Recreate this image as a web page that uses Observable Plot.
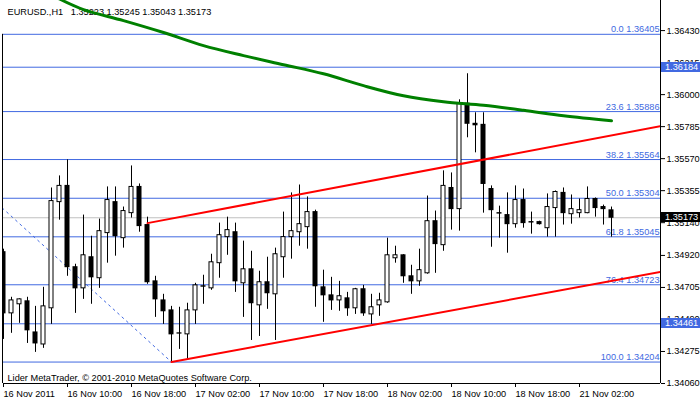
<!DOCTYPE html>
<html><head><meta charset="utf-8">
<script src="https://cdn.jsdelivr.net/npm/d3@7"></script>
<script src="https://cdn.jsdelivr.net/npm/@observablehq/plot@0.6"></script>
<style>
html,body{margin:0;padding:0;background:#fff;}
#chart{width:700px;height:402px;overflow:hidden;}
svg{display:block;}
</style></head><body><div id="chart"></div>
<script>
// ---- data (EURUSD H1, 16-21 Nov 2011), bar index 0 = 16 Nov 02:00 ----
const open = [1.34942,1.34531,1.34592,1.34612,1.34403,1.34322,1.34565,1.35278,1.35387,1.34841,
1.34699,1.34908,1.34767,1.35070,1.35278,1.35036,1.35204,1.35380,1.35124,1.34746,
1.34618,1.34551,1.34397,1.34390,1.34551,1.34710,1.34699,1.34868,1.35043,1.35076,
1.34733,1.34827,1.34585,1.34740,1.34659,1.34908,1.35043,1.35076,1.35110,1.35211,
1.34706,1.34652,1.34618,1.34632,1.34565,1.34693,1.34524,1.34585,1.34605,1.34901,
1.34921,1.34780,1.34746,1.34800,1.35150,1.34989,1.35373,1.35231,1.35939,1.35804,
1.35797,1.35366,1.35204,1.35191,1.35130,1.35292,1.35144,1.35144,1.35103,1.35238,
1.35340,1.35197,1.35204,1.35204,1.35299,1.35245,1.35223];
const high = [1.34962,1.34639,1.34628,1.34639,1.34578,1.34706,1.35373,1.35454,1.35562,1.34861,
1.35191,1.35049,1.35164,1.35380,1.35380,1.35245,1.35521,1.35400,1.35177,1.34780,
1.34659,1.34578,1.34572,1.34599,1.34733,1.34787,1.34928,1.35137,1.35177,1.35137,
1.35016,1.34948,1.34814,1.34908,1.34969,1.35211,1.35340,1.35393,1.35313,1.35224,
1.34821,1.34773,1.34746,1.34672,1.34699,1.34719,1.34659,1.34666,1.35036,1.34982,
1.34925,1.34854,1.34962,1.35319,1.35218,1.35488,1.35474,1.35965,1.36140,1.35878,
1.35878,1.35387,1.35251,1.35340,1.35387,1.35366,1.35211,1.35150,1.35333,1.35353,
1.35373,1.35326,1.35299,1.35380,1.35306,1.35258,1.35245];
const low = [1.34356,1.34397,1.34464,1.34329,1.34269,1.34296,1.34457,1.35157,1.34780,1.34531,
1.34625,1.34592,1.34699,1.34868,1.34915,1.34969,1.35171,1.35076,1.34726,1.34504,
1.34457,1.34204,1.34289,1.34221,1.34457,1.34592,1.34686,1.34767,1.34921,1.34672,
1.34504,1.34349,1.34376,1.34558,1.34349,1.34767,1.34895,1.34982,1.34962,1.34572,
1.34471,1.34551,1.34545,1.34511,1.34524,1.34511,1.34457,1.34511,1.34599,1.34868,
1.34733,1.34659,1.34713,1.34794,1.34800,1.34948,1.35090,1.35083,1.35710,1.35609,
1.35204,1.34975,1.35036,1.34935,1.35103,1.35103,1.35063,1.35124,1.35043,1.35043,
1.35124,1.35130,1.35171,1.35200,1.35177,1.35124,1.35043];
const close = [1.34531,1.34618,1.34625,1.34417,1.34329,1.34578,1.35285,1.35387,1.34841,1.34699,
1.34921,1.34773,1.35083,1.35292,1.35049,1.35218,1.35380,1.35117,1.34740,1.34625,
1.34545,1.34390,1.34395,1.34551,1.34719,1.34713,1.34874,1.35056,1.35090,1.34746,
1.34827,1.34599,1.34740,1.34666,1.34928,1.35043,1.35083,1.35130,1.35211,1.34713,
1.34652,1.34618,1.34646,1.34565,1.34693,1.34531,1.34572,1.34618,1.34921,1.34921,
1.34780,1.34746,1.34821,1.35150,1.34996,1.35387,1.35231,1.35939,1.35804,1.35794,
1.35400,1.35224,1.35201,1.35130,1.35292,1.35137,1.35141,1.35130,1.35245,1.35346,
1.35204,1.35231,1.35224,1.35299,1.35238,1.35231,1.35173];

// moving average (green)
const maBar = [7,10,15,20,25,30,35,40,45,50,55,60,65,70,76];
const maVal = [1.36642,1.36571,1.36497,1.36417,1.36329,1.36262,1.36201,1.36140,1.36060,1.35992,1.35952,1.35928,1.35895,1.35858,1.35824];

// trend lines (red), channel
const upperBar = [18, 83], upperVal = [1.35137, 1.35797];
const lowerBar = [21, 83], lowerVal = [1.34204, 1.34818];

// fibonacci
const fibLevel = ["0.0","23.6","38.2","50.0","61.8","76.4","100.0"];
const fibPrice = [1.36405,1.35886,1.35564,1.35304,1.35045,1.34723,1.34204];
const fibTrendBar = [-24, 21], fibTrendVal = [1.36405, 1.34204];

// horizontal lines and bid
const hLines = [1.36184, 1.34461];
const bid = 1.35173;

// axes
const yTicks = [1.36430,1.36215,1.36000,1.35785,1.35570,1.35355,1.35140,1.34920,1.34705,1.34490,1.34275,1.34060];
const xTickBar = [0,8,16,24,32,40,48,56,64,72];
const xLabels = ["16 Nov 2011","16 Nov 10:00","16 Nov 18:00","17 Nov 02:00","17 Nov 10:00","17 Nov 18:00","18 Nov 02:00","18 Nov 10:00","18 Nov 18:00","21 Nov 02:00"];

const header = "EURUSD.,H1\u00a0\u00a0 1.35223 1.35245 1.35043 1.35173";
const footer = "Lider MetaTrader, \u00a9 2001-2010 MetaQuotes Software Corp.";

// ---- build ----
const bars = open.map((o, i) => ({i, open: o, high: high[i], low: low[i], close: close[i], up: close[i] >= o}));
const ma = maBar.map((k, j) => ({k, v: maVal[j]}));
const upper = upperBar.map((k, j) => ({k, v: upperVal[j]}));
const lower = lowerBar.map((k, j) => ({k, v: lowerVal[j]}));
const fibTrend = fibTrendBar.map((k, j) => ({k, v: fibTrendVal[j]}));
const fibs = fibLevel.map((l, j) => ({level: l, price: fibPrice[j]}));

const FONT = "'Liberation Sans', Arial, sans-serif";
const FS = 9.2;
const blue = "#4169e1";
const yMin = 1.34060, yMax = 1.36632, xMax = 82.125;

const chart = Plot.plot({
  width: 700, height: 402,
  marginLeft: 3, marginRight: 40, marginTop: 0, marginBottom: 19,
  style: {fontFamily: FONT, fontSize: FS + "px", background: "#fff", color: "#000", overflow: "visible"},
  x: {type: "linear", domain: [0, xMax]},
  y: {type: "linear", domain: [yMin, yMax]},
  marks: [
    Plot.ruleY(fibs, {y: "price", stroke: blue, strokeWidth: 1}),
    Plot.ruleY(hLines, {y: d => d, stroke: blue, strokeWidth: 1}),
    Plot.ruleY([bid], {y: d => d, stroke: "#c0c0c0", strokeWidth: 1}),
    Plot.line(fibTrend, {x: "k", y: "v", stroke: blue, strokeWidth: 1, strokeDasharray: "2,4", clip: true}),
    Plot.text(fibs, {y: "price", text: d => `${d.level} ${d.price.toFixed(5)}`, frameAnchor: "right",
      textAnchor: "end", lineAnchor: "bottom", dx: -1, dy: -2, fill: blue, fontSize: FS}),
    Plot.text([header], {frameAnchor: "top-left", textAnchor: "start", lineAnchor: "bottom", dx: 4, dy: 14, fill: "#000", fontSize: FS}),
    Plot.text([footer], {frameAnchor: "bottom-left", textAnchor: "start", lineAnchor: "bottom", dx: 4, dy: -3, fill: "#000", fontSize: FS}),
    // candles
    Plot.ruleX(bars, {x: "i", y1: "low", y2: "high", stroke: "#000", strokeWidth: 1, clip: true}),
    Plot.rect(bars, {x1: d => d.i - 0.3125, x2: d => d.i + 0.3125, y1: "open", y2: "close",
      insetTop: -0.5, insetBottom: -0.5, fill: "#000", clip: true}),
    Plot.rect(bars.filter(d => d.up), {x1: d => d.i - 0.3125, x2: d => d.i + 0.3125, y1: "open", y2: "close",
      insetTop: 0.5, insetBottom: 0.5, insetLeft: 1, insetRight: 1, fill: "#fff", clip: true}),
    // indicator and trend lines
    Plot.line(ma, {x: "k", y: "v", stroke: "#008000", strokeWidth: 3, curve: "catmull-rom", clip: true}),
    Plot.line(upper, {x: "k", y: "v", stroke: "#ff0000", strokeWidth: 2, clip: true}),
    Plot.line(lower, {x: "k", y: "v", stroke: "#ff0000", strokeWidth: 2, clip: true}),
    // frame
    Plot.ruleY([yMin], {y: d => d, stroke: "#000"}),
    Plot.ruleX([xMax], {x: d => d, stroke: "#000"}),
    Plot.ruleX([0], {x: d => d, y1: yMin, y2: fibPrice[0], stroke: "#000", dx: -1}),
    // axes
    Plot.axisY({anchor: "right", ticks: yTicks, tickFormat: d => d.toFixed(5), tickSize: 4, tickPadding: 2, label: null, fontSize: FS}),
    Plot.axisX({anchor: "bottom", ticks: xTickBar, tickFormat: d => xLabels[xTickBar.indexOf(d)], tickSize: 4, tickPadding: 3,
      textAnchor: "start", label: null, fontSize: FS})
  ]
});

// price labels boxed on the right axis, positioned with the plot's y scale
const ys = chart.scale("y");
const boxes = [{v: hLines[0], fill: blue}, {v: hLines[1], fill: blue}, {v: bid, fill: "#000"}];
const g = d3.select(chart).append("g").attr("font-family", FONT).attr("font-size", FS).attr("text-anchor", "start");
for (const b of boxes) {
  const y = Math.round(ys.apply(b.v));
  g.append("rect").attr("x", 661).attr("y", y - 5).attr("width", 39).attr("height", 10).attr("fill", b.fill);
  g.append("text").attr("x", 665).attr("y", y).attr("dy", "0.34em").attr("text-anchor", "start").attr("fill", "#fff").text(b.v.toFixed(5));
}
document.getElementById("chart").appendChild(chart);
</script></body></html>
